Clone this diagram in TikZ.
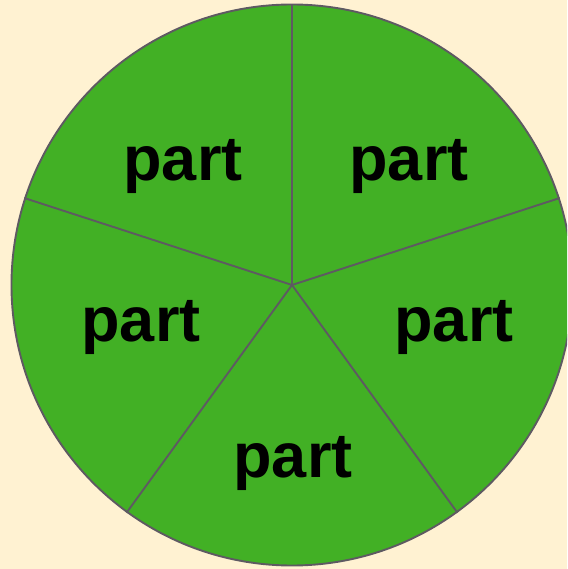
\documentclass[tikz,border=0pt]{standalone}
\usepackage{fontspec}
\setmainfont{Liberation Sans}
\usepackage{tikz}
\usetikzlibrary{positioning}
\definecolor{cream}{RGB}{255,242,210}
\definecolor{leaf}{RGB}{66,176,37}
\definecolor{rimgray}{RGB}{94,90,98}

\begin{document}
\begin{tikzpicture}[
  x=1pt,y=1pt,
  disc/.style={circle,draw=rimgray,fill=leaf,line width=1.9pt,minimum size=561pt,inner sep=0pt},
  lbl/.style={font=\fontsize{63}{72}\bfseries\selectfont,anchor=base,inner sep=0pt},
  ln/.style={draw=rimgray,line width=1.9pt}
]
% page frame
\clip (-292,-284) rectangle (275,285);
\fill[cream] (-292,-284) rectangle (275,285);
% the whole
\node[disc] (whole) at (0,0) {};
% spokes from centre to rim
\foreach \a in {90,18,-54,-126,162}
  { \draw[ln] (whole.center) -- (whole.\a); }
% parts
\node[lbl] (ptl) at (-109,104) {part};
\node[lbl] (ptr) at (117,104)  {part};
\node[lbl] (pl)  at (-151,-57) {part};
\node[lbl] (pr)  at (162,-57)  {part};
\node[lbl] (pb)  at (1,-192)   {part};
\end{tikzpicture}
\end{document}
